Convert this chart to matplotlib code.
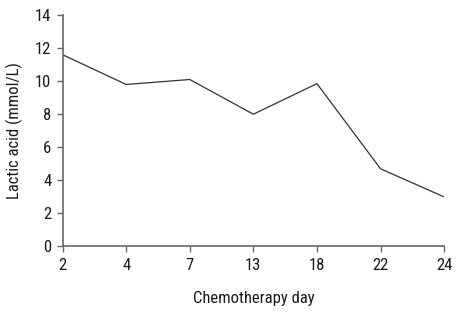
import matplotlib.pyplot as plt

days = ["2", "4", "7", "13", "18", "22", "24"]
lactic = [11.6, 9.8, 10.1, 8.0, 9.85, 4.7, 3.0]
y_ticks = [0, 2, 4, 6, 8, 10, 12, 14]

plt.rcParams['font.family'] = ['Roboto Condensed', 'DejaVu Sans']

fig = plt.figure(figsize=(4.67, 3.13), dpi=100)
ax = fig.add_axes([0.134, 0.2125, 0.817, 0.7395])

x = range(len(days))
ax.plot(x, lactic, color="#333333", linewidth=0.9)

ax.set_xlim(0, len(days) - 1)
ax.set_ylim(0, 14)
ax.set_xticks(list(x))
ax.set_xticklabels(days)
ax.set_yticks(y_ticks)

for side in ["top", "right"]:
    ax.spines[side].set_visible(False)
for side in ["left", "bottom"]:
    ax.spines[side].set_color("#666666")
    ax.spines[side].set_linewidth(1.2)
ax.tick_params(direction="out", length=4, width=1, color="#666666",
               labelsize=12, labelcolor="#1a1a1a", pad=4)

ax.set_xlabel("Chemotherapy day", fontsize=12, color="#1a1a1a", labelpad=13)
ax.set_ylabel("Lactic acid (mmol/L)", fontsize=12, color="#1a1a1a", labelpad=9)

fig.savefig("out.png", dpi=100)
